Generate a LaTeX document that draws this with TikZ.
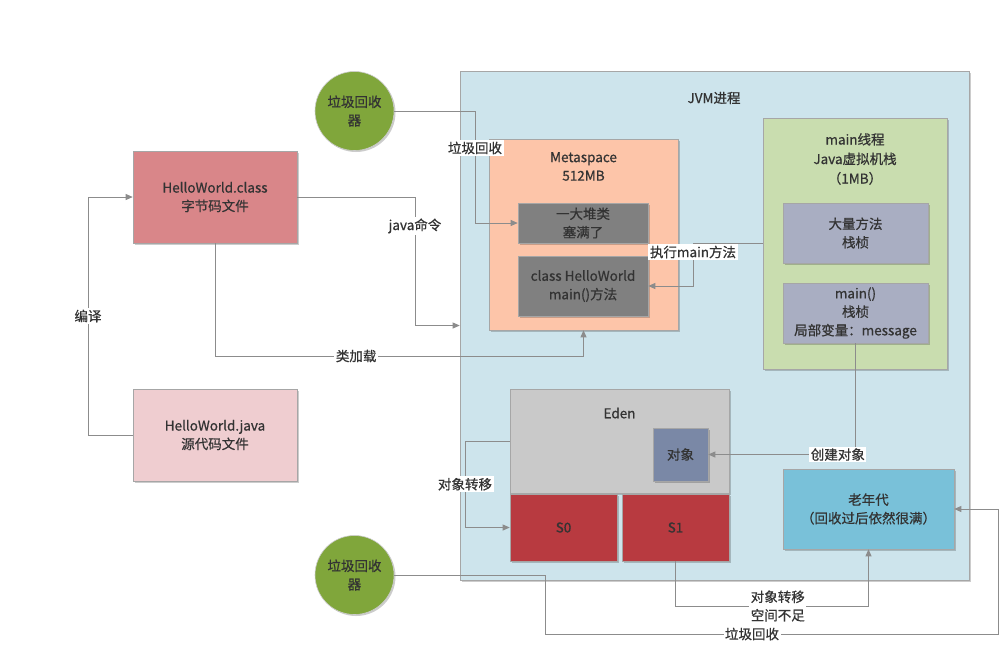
\documentclass[tikz,border=0pt]{standalone}
\usepackage{fontspec}
\setmainfont{Noto Sans CJK SC}[FakeBold=0.7]
\usetikzlibrary{arrows.meta,shadows}
\definecolor{txt}{HTML}{333333}
\definecolor{lin}{HTML}{8C8C8C}
\definecolor{jvmc}{HTML}{CDE4EC}
\definecolor{clsc}{HTML}{D98689}
\definecolor{javc}{HTML}{EFCDD0}
\definecolor{metac}{HTML}{FDC5A9}
\definecolor{grayc}{HTML}{808080}
\definecolor{mainc}{HTML}{C9DDAF}
\definecolor{framec}{HTML}{A9AEC2}
\definecolor{edenc}{HTML}{C9C9C9}
\definecolor{objc}{HTML}{7A88A6}
\definecolor{survc}{HTML}{B83A40}
\definecolor{oldc}{HTML}{79C1D9}
\definecolor{gcc}{HTML}{80A63B}
\begin{document}
\begin{tikzpicture}[x=1pt,y=-1pt,
  every node/.style={font=\fontsize{13.5}{18.5}\selectfont, text=txt, align=center, inner sep=1pt},
  box/.style={draw=black!35, line width=0.6pt, fill=#1, rectangle,
    drop shadow={shadow xshift=1.5pt, shadow yshift=-1.5pt, opacity=0.2, fill=black}},
  gcnode/.style={circle, fill=gcc, draw=black!20, line width=0.6pt, minimum size=79pt, inner sep=0pt,
    drop shadow={shadow xshift=1.5pt, shadow yshift=-1.5pt, opacity=0.2, fill=black}},
  conn/.style={draw=lin, line width=0.8pt, -{Triangle[width=6pt,length=7pt]}},
  lab/.style={fill=white, inner sep=1.5pt}
]
\useasboundingbox (0,0) rectangle (1008,646);
\fill[white] (0,0) rectangle (1008,646);

% JVM container
\node[box=jvmc, minimum width=509pt, minimum height=509pt] (jvm) at (714.5,325.5) {};
\node (jvmt) at (714,98) {JVM进程};

% left files
\node[box=clsc, minimum width=164pt, minimum height=92pt] (cls) at (215,197) {HelloWorld.class\\字节码文件};
\node[box=javc, minimum width=164pt, minimum height=92pt] (jav) at (215,435) {HelloWorld.java\\源代码文件};

% Metaspace
\node[box=metac, minimum width=189pt, minimum height=191pt] (meta) at (583.5,234.5) {};
\node (metat) at (583.5,166.5) {Metaspace\\512MB};
\node[box=grayc, minimum width=130pt, minimum height=40pt] (heap) at (583,223) {一大堆类\\塞满了};
\node[box=grayc, minimum width=130pt, minimum height=60pt] (hw) at (583,286) {class HelloWorld\\main()方法};

% main thread
\node[box=mainc, minimum width=184pt, minimum height=251pt] (mainth) at (855,243.5) {};
\node[font=\fontsize{13.5}{19.5}\selectfont] (maint) at (855,159) {main线程\\Java虚拟机栈\\（1MB）};
\node[box=framec, minimum width=145pt, minimum height=60pt] (many) at (855.5,233) {大量方法\\栈桢};
\node[box=framec, minimum width=145pt, minimum height=60pt] (mainf) at (855.5,313) {main()\\栈桢\\局部变量：message};

% heap areas
\node[box=edenc, minimum width=219pt, minimum height=104pt] (eden) at (619.5,441) {};
\node (edent) at (619.5,413) {Eden};
\node[box=objc, minimum width=55pt, minimum height=53pt] (obj) at (680.5,454.5) {对象};
\node[box=survc, minimum width=107pt, minimum height=67pt] (s0) at (563.5,527.5) {S0};
\node[box=survc, minimum width=107pt, minimum height=67pt] (s1) at (675.5,527.5) {S1};
\node[box=oldc, minimum width=171pt, minimum height=80pt] (old) at (868.5,509) {老年代\\（回收过后依然很满）};

% garbage collectors
\node[gcnode] (gc1) at (354.5,111) {垃圾回收\\器};
\node[gcnode] (gc2) at (354.5,575) {垃圾回收\\器};

% connectors
\draw[conn] (jav.west) -- (88,435) -- node[lab] (l1) {编译} (88,197) -- (cls.west);
\draw[conn] (cls.east) -- (415,197) -- node[lab,pos=0.225] (l2) {java命令} (415,325.5) -- (jvm.west);
\draw[conn] (cls.south) -- (215,356) -- node[lab,pos=0.383] (l3) {类加载} (583.5,356) -- (meta.south);
\draw[conn] (gc1.east) -- (475,111) -- node[lab,pos=0.33] (l4) {垃圾回收} (475,223) -- (heap.west);
\draw[conn] (mainth.west) -- (693,243.5) -- node[lab,pos=0.2] (l5) {执行main方法} (693,286) -- (hw.east);
\draw[conn] (mainf.south) -- (855.5,454.5) -- node[lab,pos=0.12] (l6) {创建对象} (obj.east);
\draw[conn] (eden.west) -- (465,441) -- node[lab] (l7) {对象转移} (465,527.5) -- (s0.west);
\draw[conn] (s1.south) -- (675.5,606) -- node[lab,pos=0.53] (l8) {对象转移\\空间不足} (868.5,606) -- (old.south);
\draw[conn] (gc2.east) -- (545,575) -- (545,634) -- node[lab,pos=0.457] (l9) {垃圾回收} (998,634) -- (998,509) -- (old.east);
\end{tikzpicture}
\end{document}
